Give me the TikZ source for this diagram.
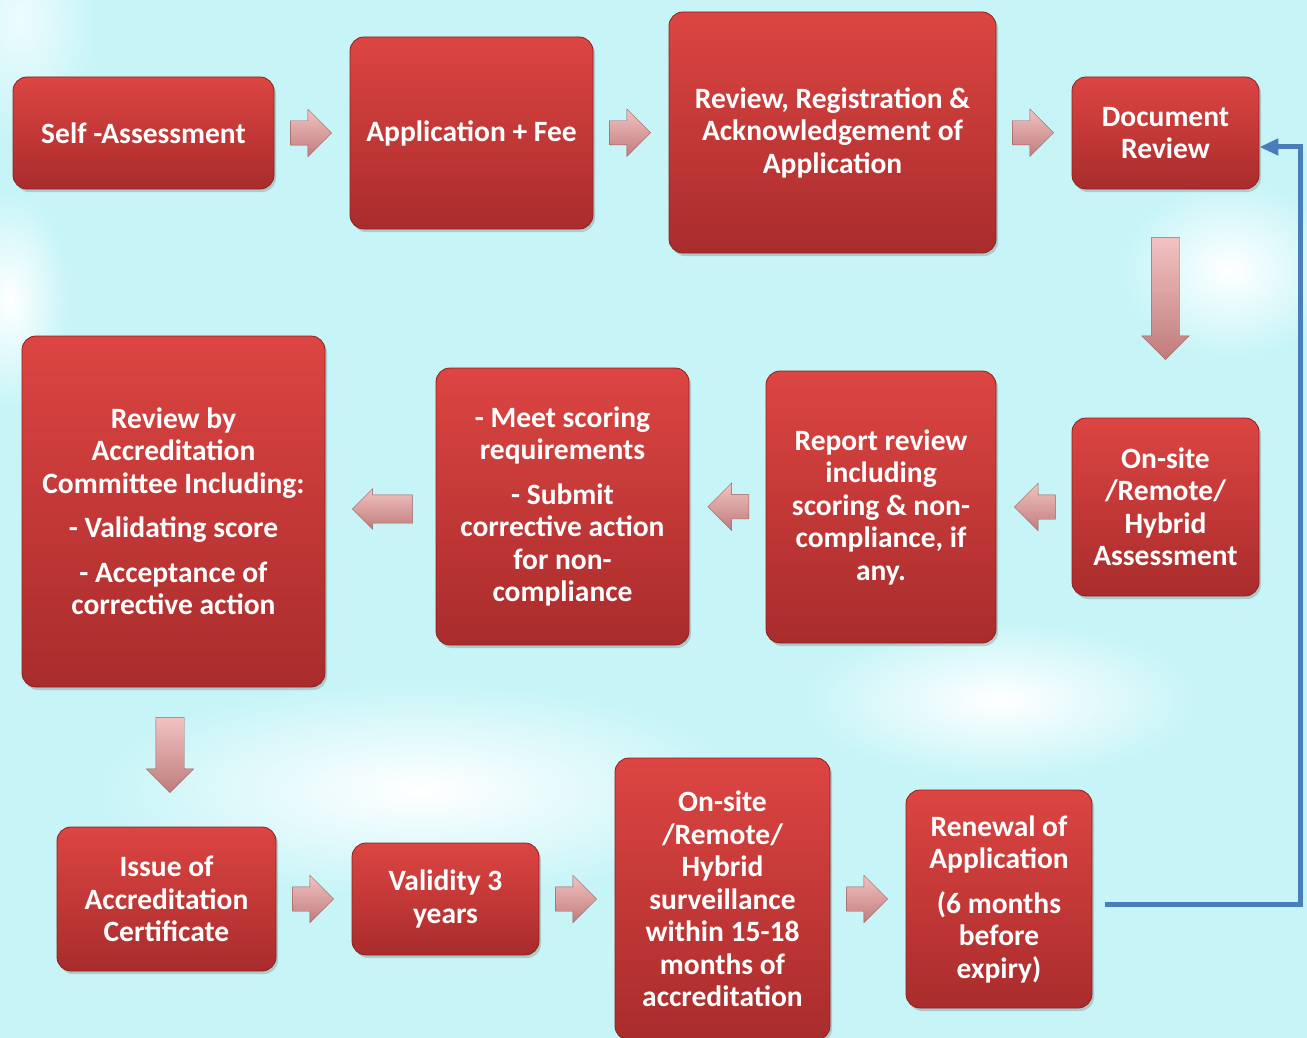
\documentclass[tikz,border=0pt]{standalone}
\usepackage{fontspec}
\setmainfont{Carlito}
\usetikzlibrary{arrows.meta, positioning, calc, shapes.arrows, shadows}

\definecolor{boxtop}{HTML}{DC4542}
\definecolor{boxbot}{HTML}{A92C2C}
\definecolor{boxline}{HTML}{8E2020}
\definecolor{arrtop}{HTML}{F2C2C2}
\definecolor{arrbot}{HTML}{C07C7C}
\definecolor{arrline}{HTML}{9C5E5E}
\definecolor{loopblue}{HTML}{4A7EBB}
\definecolor{skybg}{HTML}{C6F4F7}

\tikzset{
  stage/.style={rectangle, rounded corners=14pt, top color=boxtop, bottom color=boxbot,
    draw=boxline, line width=0.8pt, text=white, align=center, inner sep=0pt,
    font=\bfseries\fontsize{29.5}{32.5}\selectfont,
    drop shadow={shadow xshift=2pt, shadow yshift=-3pt, opacity=0.35}},
  harrow/.style={single arrow, draw=arrline, top color=arrtop, bottom color=arrbot,
    inner sep=12pt, single arrow head extend=11.5pt, minimum height=41pt},
  larrow/.style={harrow, shape border rotate=180},
  darrow/.style={harrow, shape border rotate=270, inner sep=14pt, single arrow head extend=9.5pt},
  loopline/.style={draw=loopblue, line width=5pt, -{Triangle[length=19pt,width=16pt]}}
}

\begin{document}
\begin{tikzpicture}[x=1pt, y=-1pt]
    % Background
    \useasboundingbox (0,0) rectangle (1307,1038);
    \fill[skybg] (0,0) rectangle (1307,1038);
    \shade[inner color=white, outer color=skybg] (420,790) ellipse (330 and 110);
    \shade[inner color=white, outer color=skybg] (1230,270) ellipse (110 and 90);
    \shade[inner color=white, outer color=skybg] (10,300) ellipse (60 and 110);
    \shade[inner color=white, outer color=skybg] (1000,700) ellipse (200 and 80);
    \shade[inner color=white!70!skybg, outer color=skybg] (20,20) ellipse (80 and 120);

    % Row 1
    \node[stage, minimum width=261, minimum height=112] (sa) at (143.5,133) {Self -Assessment};
    \node[stage, minimum width=243, minimum height=192] (af) at (471.5,133) {Application + Fee};
    \node[stage, minimum width=327, minimum height=241] (rr) at (832.5,132.5) {Review, Registration \&\\Acknowledgement of\\Application};
    \node[stage, minimum width=187, minimum height=112] (dr) at (1165.5,133) {Document\\Review};

    % Row 2
    \node[stage, minimum width=187, minimum height=178] (oa) at (1165.5,507) {On-site\\/Remote/\\Hybrid\\Assessment};
    \node[stage, minimum width=230, minimum height=272] (rp) at (881,507) {Report review\\including\\scoring \& non-\\compliance, if\\any.};
    \node[stage, minimum width=253, minimum height=277] (ms) at (562.5,506.5) {- Meet scoring\\requirements\\[12pt]- Submit\\corrective action\\for non-\\compliance};
    \node[stage, minimum width=303, minimum height=351] (rc) at (173.5,511.5) {Review by\\Accreditation\\Committee Including:\\[12pt]- Validating score\\[12pt]- Acceptance of\\corrective action};

    % Row 3
    \node[stage, minimum width=219, minimum height=144] (ic) at (166.5,899) {Issue of\\Accreditation\\Certificate};
    \node[stage, minimum width=187, minimum height=112] (vy) at (445.5,899) {Validity 3\\years};
    \node[stage, minimum width=215, minimum height=282] (sv) at (722.5,899) {On-site\\/Remote/\\Hybrid\\surveillance\\within 15-18\\months of\\accreditation};
    \node[stage, minimum width=186, minimum height=218] (rn) at (999,899) {Renewal of\\Application\\[12pt](6 months\\before\\expiry)};

    % Block arrows
    \node[harrow, xshift=-7pt] (a1) at ($(sa.east)!0.5!(af.west)$) {};
    \node[harrow, xshift=-7pt] (a2) at ($(af.east)!0.5!(rr.west)$) {};
    \node[harrow, xshift=-7pt] (a3) at ($(rr.east)!0.5!(dr.west)$) {};
    \node[darrow, minimum height=122, yshift=12pt] (a4) at ($(dr.south)!0.5!(oa.north)$) {};
    \node[larrow, xshift=7pt] (a5) at ($(oa.west)!0.5!(rp.east)$) {};
    \node[larrow, xshift=7pt] (a6) at ($(rp.west)!0.5!(ms.east)$) {};
    \node[larrow, minimum height=60, inner sep=14pt, single arrow head extend=6pt, xshift=9pt] (a7) at ($(ms.west)!0.5!(rc.east)$) {};
    \node[darrow, minimum height=75, yshift=9pt] (a8) at ($(rc.south)!0.5!(ic.north)$) {};
    \node[harrow, xshift=-7pt] (a9) at ($(ic.east)!0.5!(vy.west)$) {};
    \node[harrow, xshift=-7pt] (a10) at ($(vy.east)!0.5!(sv.west)$) {};
    \node[harrow, xshift=-7pt] (a11) at ($(sv.east)!0.5!(rn.west)$) {};

    % Renewal loops back to document review
    \draw[loopline] ([xshift=13pt,yshift=-5pt]rn.east) -- ++(195,0) |- ([yshift=-14pt]dr.east);
\end{tikzpicture}
\end{document}
